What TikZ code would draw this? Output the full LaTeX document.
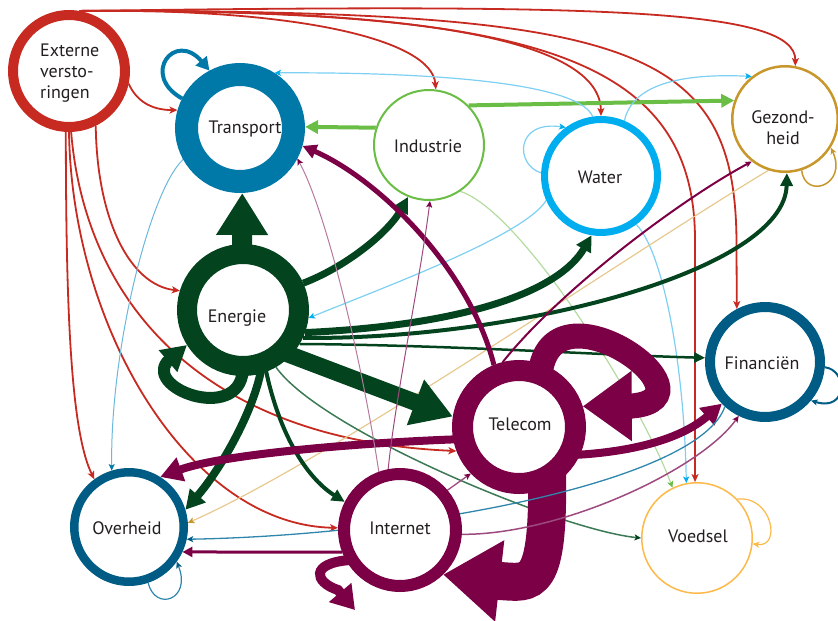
\documentclass[tikz,border=0pt]{standalone}
\usepackage{fontspec}
\newfontfamily\lblfam{PT Sans}
\newcommand\lblfont{\lblfam\fontsize{18}{21}\selectfont}
\usetikzlibrary{arrows.meta,calc,backgrounds}
\definecolor{red}{HTML}{C62A20}
\definecolor{tra}{HTML}{0079A8}
\definecolor{ind}{HTML}{6ABD45}
\definecolor{wat}{HTML}{00AEEF}
\definecolor{gez}{HTML}{C8972B}
\definecolor{ene}{HTML}{03441F}
\definecolor{fin}{HTML}{005C84}
\definecolor{tel}{HTML}{7B0046}
\definecolor{voe}{HTML}{FDB94A}
\definecolor{txt}{HTML}{231F20}
\definecolor{watl}{HTML}{7DD0F2}
\definecolor{tral}{HTML}{6BB8DB}
\definecolor{gezl}{HTML}{E6C98F}
\definecolor{intl}{HTML}{B77A9F}
\definecolor{intm}{HTML}{9E4A7E}
\definecolor{indl}{HTML}{B4DBA0}
\definecolor{enel}{HTML}{3C7A55}
\definecolor{finl}{HTML}{2F86AD}
\tikzset{
  ring/.style={circle, fill=white, inner sep=0pt},
  lbl/.style={font=\lblfont, text=txt, inner sep=0pt},
  thin tip/.style={-{Stealth[length=8pt,width=7pt,inset=2pt,#1]}},
  thin tip/.default={},
  small tip/.style={-{Stealth[length=6.5pt,width=6pt,inset=1.5pt,#1]}},
  small tip/.default={},
  redline/.style={draw=red, line width=1.8pt, thin tip},
}
\begin{document}
\begin{tikzpicture}[x=1pt,y=-1pt]
\useasboundingbox (0,0) rectangle (838,621);
% nodes
\node[ring, draw=red, line width=10pt, minimum size=112pt] (Ext) at (69,71) {};
\node[ring, draw=tra, line width=23pt, minimum size=107pt] (Tra) at (240,128) {};
\node[ring, draw=ind, line width=2pt, minimum size=110pt] (Ind) at (429,145) {};
\node[ring, draw=wat, line width=7pt, minimum size=113pt] (Wat) at (601,176) {};
\node[ring, draw=gez, line width=2.5pt, minimum size=105.5pt] (Gez) at (785,119) {};
\node[ring, draw=ene, line width=20pt, minimum size=112pt] (Ene) at (243,310) {};
\node[ring, draw=fin, line width=10pt, minimum size=110pt] (Fin) at (765,362) {};
\node[ring, draw=tel, line width=21pt, minimum size=113pt] (Tel) at (519,427) {};
\node[ring, draw=fin, line width=8.5pt, minimum size=109.5pt] (Ove) at (129,527) {};
\node[ring, draw=tel, line width=12pt, minimum size=112pt] (Int) at (400,530) {};
\node[ring, draw=voe, line width=1.5pt, minimum size=110.5pt] (Voe) at (697,538) {};
% labels
\node[lbl, anchor=west, align=left] (ExtL) at (40,73) {Externe\\versto-\\ringen};
\node[lbl, anchor=base] (TraL) at (245,133) {Transport};
\node[lbl, anchor=base] (IndL) at (428,152) {Industrie};
\node[lbl, anchor=base] (WatL) at (600,183) {Water};
\node[lbl, align=center] (GezL) at (783,127.5) {Gezond-\\heid};
\node[lbl, anchor=base] (EneL) at (237,322) {Energie};
\node[lbl, anchor=base] (FinL) at (762,369) {Financiën};
\node[lbl, anchor=base] (TelL) at (520,430) {Telecom};
\node[lbl, anchor=base] (OveL) at (127,534) {Overheid};
\node[lbl, anchor=base] (IntL) at (400,534) {Internet};
\node[lbl, anchor=base] (VoeL) at (698,542) {Voedsel};
\begin{pgfonlayer}{background}
% Externe
\draw[redline] (Ext.-12) .. controls (136,100) and (150,110) .. (Tra.164);
\draw[redline] (Ext.-64) .. controls (97,220) and (130,285) .. (Ene.163);
\draw[redline] (Ext.-93) .. controls (66,300) and (70,430) .. (Ove.126);
\draw[redline] (Ext.-90) .. controls (72,330) and (190,525) .. (Int.178);
\draw[redline] (Ext.-88) .. controls (85,300) and (200,440) .. (Tel.201);
\draw[redline] (Ext.80) .. controls (300,8) and (432,40) .. (Ind.83);
\draw[redline] (Ext.80) .. controls (420,8) and (600,40) .. (Wat.90);
\draw[redline] (Ext.80) .. controls (600,4) and (796,8) .. (Gez.79);
\draw[redline] (Ext.80) .. controls (520,10) and (695,50) .. (695,240) -- (Voe.92);
\draw[redline] (Ext.80) .. controls (640,10) and (738,45) .. (736.5,250) -- (Fin.118);
% Transport
\draw[draw=tra, line width=4pt, -{Triangle[length=13pt,width=14pt]}] (Tra.153) .. controls (140,75) and (175,30) .. (Tra.118);
\draw[draw=tral, line width=1pt, small tip={color=tra}] (Tra.209) .. controls (150,190) and (110,350) .. (Ove.107);
% Industrie
\draw[draw=ind, line width=4pt, -{Triangle[length=13pt,width=13pt]}] (Ind.162) -- (Tra.1);
\draw[draw=ind, line width=4pt, -{Triangle[length=13pt,width=13pt]}] (Ind.45) -- (Gez.160);
\draw[draw=indl, line width=1.2pt, small tip={color=ind}] (Ind.-56) .. controls (520,210) and (640,400) .. (Voe.116);
% Water
\draw[draw=watl, line width=1.2pt, small tip={color=wat}] (Wat.177) .. controls (515,165) and (515,120) .. (Wat.126);
\draw[draw=watl, line width=1.2pt, small tip={color=wat}] (Wat.98) .. controls (580,85) and (450,72) .. (Tra.58);
\draw[draw=watl, line width=1.2pt, small tip={color=wat}] (Wat.67) .. controls (632,85) and (680,73) .. (Gez.128);
\draw[draw=watl, line width=1.2pt, small tip={color=wat}] (Wat.204) .. controls (525,235) and (390,285) .. (Ene.-7);
\draw[draw=watl, line width=1.2pt, small tip={color=wat}] (Wat.-54) .. controls (662,250) and (684,360) .. (Voe.101);
% Gezondheid
\draw[draw=gez, line width=1.5pt, small tip] (Gez.-72) .. controls (805,200) and (848,185) .. (Gez.-32);
\draw[draw=gezl, line width=1.2pt, small tip={color=gez}] (Gez.-108) .. controls (620,260) and (330,460) .. (Ove.4);
% Energie
\draw[draw=ene, line width=20pt, -{Triangle[length=42pt,width=49pt]}] ($(Ene.center)+(-1,-50)$) -- (Tra.-88);
\draw[draw=ene, line width=12pt, -{Triangle[length=25pt,width=27pt]}] ($(Ene.center)+(0,55)$) .. controls (245,425) and (145,390) .. ($(Ene.center)+(-76,52)$) -- (Ene.212);
\draw[draw=ene, line width=7pt, -{Triangle[length=16pt,width=16pt]}] (Ene.24) .. controls (350,265) and (390,230) .. (Ind.-112);
\draw[draw=ene, line width=7pt, -{Triangle[length=16pt,width=16pt]}] (Ene.-20) .. controls (470,325) and (560,290) .. (Wat.-99);
\draw[draw=ene, line width=4pt, -{Triangle[length=13pt,width=12pt]}] (Ene.-25) .. controls (520,340) and (785,270) .. (Gez.-88);
\draw[draw=ene, line width=2.5pt, -{Triangle[length=11pt,width=10pt]}] (Ene.-31) .. controls (450,345) and (600,355) .. (Fin.176);
\draw[draw=ene, line width=17pt, -{Triangle[length=40pt,width=46pt]}] ($(Ene.center)+(37,41)$) -- (Tel.171);
\draw[draw=ene, line width=8pt, -{Triangle[length=19pt,width=20pt]}] ($(Ene.center)+(19,55)$) .. controls (255,410) and (220,470) .. (Ove.17);
\draw[draw=ene, line width=4pt, -{Triangle[length=13pt,width=12pt]}] ($(Ene.center)+(22,56)$) .. controls (280,440) and (310,480) .. (Int.153);
\draw[draw=enel, line width=1.5pt, small tip={color=ene}] (Ene.-60) .. controls (320,430) and (560,530) .. (Voe.180);
% Telecom
\draw[draw=tel, line width=5pt, -{Triangle[length=14pt,width=14pt]}] (Tel.112) .. controls (470,270) and (380,180) .. (Tra.-16);
\draw[draw=tel, line width=2pt, small tip] (Tel.104) .. controls (560,290) and (680,200) .. (Gez.232);
\draw[draw=tel, line width=8pt, -{Triangle[length=22pt,width=24pt]}] ($(Tel.center)+(-55,12)$) .. controls (350,443) and (220,455) .. (Ove.58);
\draw[draw=tel, line width=8pt, -{Triangle[length=20pt,width=22pt]}] ($(Tel.center)+(55,28)$) .. controls (630,452) and (680,440) .. (Fin.224);
\draw[draw=tel, line width=25pt, -{Triangle[length=49pt,width=67pt]}] ($(Tel.center)+(21,-52)$) .. controls (550,275) and (722,398) .. ($(Tel.center)+(113,-21)$) -- (Tel.18);
\draw[draw=tel, line width=38pt, -{Triangle[length=57pt,width=78pt]}] ($(Tel.center)+(28,43)$) .. controls (549,590) and (532,583) .. ($(Tel.center)+(-19,154)$) -- (Int.-46);
% Internet
\draw[draw=tel, line width=10pt, -{Triangle[length=23pt,width=28pt]}] ($(Int.center)+(-50,30)$) .. controls (310,563) and (314,582) .. ($(Int.center)+(-62,60)$) -- ($(Int.center)+(-45,80)$);
\draw[draw=tel, line width=3pt, -{Triangle[length=10pt,width=10pt]}] (Int.201) -- (Ove.-25);
\draw[draw=intl, line width=1pt, small tip={color=tel}] (Int.110) .. controls (365,380) and (330,220) .. (Tra.-28);
\draw[draw=intm, line width=1pt, small tip={color=tel}] (Int.101) .. controls (395,400) and (420,280) .. (Ind.-89);
\draw[draw=intm, line width=1.3pt, small tip={color=tel}] (Int.40) -- (Tel.224);
\draw[draw=intm, line width=1.5pt, small tip={color=tel}] (Int.-4) .. controls (560,535) and (700,470) .. (Fin.244);
% Financien, Overheid, Voedsel
\draw[draw=finl, line width=1.3pt, small tip={color=fin}] (Fin.228) .. controls (700,480) and (420,535) .. (Ove.-12);
\draw[draw=fin, line width=2pt, small tip] (Fin.-5) .. controls (848,370) and (848,412) .. (Fin.-40);
\draw[draw=finl, line width=1.2pt, small tip={color=fin}] (Ove.-71) .. controls (155,612) and (192,600) .. (Ove.-36);
\draw[draw=voe, line width=1.2pt, small tip] (Voe.44) .. controls (772,495) and (782,548) .. (Voe.-6);
\end{pgfonlayer}
\end{tikzpicture}
\end{document}
